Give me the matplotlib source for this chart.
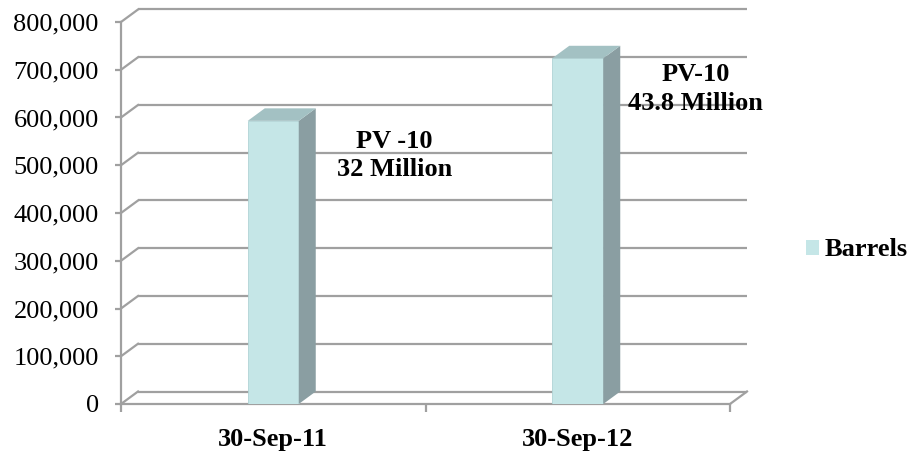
import matplotlib
matplotlib.use("Agg")
import matplotlib.pyplot as plt
from matplotlib.patches import Polygon, Patch
from matplotlib.ticker import FuncFormatter

# ---- data ----
categories = ["30-Sep-11", "30-Sep-12"]
barrels = [593000, 724000]
series_name = "Barrels"
annotations = ["PV -10\n32 Million", "PV-10\n43.8 Million"]
yticks = [0, 100000, 200000, 300000, 400000, 500000, 600000, 700000, 800000]

# ---- style ----
FONT = "Liberation Serif"
front_c = "#C5E6E7"
top_c = "#A3C1C3"
side_c = "#8A9EA2"
grid_c = "#A0A0A0"
FS = 19

W, H = 910, 451
fig = plt.figure(figsize=(W / 100, H / 100), dpi=100)
L, R, B, T = 121, 730, 404, 22
ax = fig.add_axes([L / W, (H - B) / H, (R - L) / W, (B - T) / H])
ax.set_xlim(-0.5, 1.5)
ax.set_ylim(0, 800000)

# depth offsets (pixels -> data units)
dpx, dpy = 17, 12.5
ddx = dpx * 2.0 / (R - L)
ddy = dpy * 800000 / (B - T)

# walls: back gridlines + side-wall diagonals
for v in yticks:
    ax.plot([-0.5 + ddx, 1.5 + ddx], [v + ddy, v + ddy], color=grid_c, lw=1.6,
            clip_on=False, zorder=1, solid_capstyle="butt")
    ax.plot([-0.5, -0.5 + ddx], [v, v + ddy], color=grid_c, lw=1.6,
            clip_on=False, zorder=1)
# floor front edge + right diagonal
ax.plot([-0.5, 1.5], [0, 0], color=grid_c, lw=1.6, clip_on=False, zorder=1)
ax.plot([1.5, 1.5 + ddx], [0, ddy], color=grid_c, lw=1.6, clip_on=False, zorder=1)

# bars (front face + side + top)
bw = 0.1675
xs = list(range(len(categories)))
ax.bar(xs, barrels, width=bw, color=front_c, edgecolor="#B0D4D6", linewidth=0.6, zorder=3)
for x, v in zip(xs, barrels):
    xr = x + bw / 2
    xl = x - bw / 2
    ax.add_patch(Polygon([(xr, 0), (xr + ddx, ddy), (xr + ddx, v + ddy), (xr, v)],
                         closed=True, facecolor=side_c, edgecolor="none", zorder=3, clip_on=False))
    ax.add_patch(Polygon([(xl, v), (xr, v), (xr + ddx, v + ddy), (xl + ddx, v + ddy)],
                         closed=True, facecolor=top_c, edgecolor="none", zorder=3, clip_on=False))

# axes styling
for s in ["top", "right", "bottom"]:
    ax.spines[s].set_visible(False)
ax.spines["left"].set_color(grid_c)
ax.spines["left"].set_linewidth(1.6)
ax.set_yticks(yticks)
ax.yaxis.set_major_formatter(FuncFormatter(lambda v, p: f"{int(v):,}"))
ax.tick_params(axis="y", colors=grid_c, length=4, width=1.6, pad=12)
for lab in ax.get_yticklabels():
    lab.set_color("black")
    lab.set_fontfamily(FONT)
    lab.set_fontsize(FS)

ax.set_xticks(xs)
ax.set_xticklabels(categories, fontfamily=FONT, fontsize=FS, fontweight="bold")
ax.tick_params(axis="x", length=0, pad=17)
ax.set_xticks([-0.5, 0.5, 1.5], minor=True)
ax.tick_params(axis="x", which="minor", length=6, width=1.6, colors=grid_c)

# annotations
ann_pos = [(0.397, 521000), (1.388, 660000)]
for (tx, ty), txt in zip(ann_pos, annotations):
    ax.text(tx, ty, txt, ha="center", va="center", fontfamily=FONT, fontsize=FS,
            fontweight="bold", linespacing=1.3, zorder=5)

# legend
fig.legend(handles=[Patch(facecolor=front_c, edgecolor="none")], labels=[series_name],
           loc="center left", bbox_to_anchor=(806 / W, 1 - 250 / H), frameon=False,
           handlelength=0.5, handleheight=0.5, handletextpad=0.2, borderpad=0,
           borderaxespad=0,
           prop={"family": FONT, "size": FS, "weight": "bold"})

fig.savefig("out.png", dpi=100, facecolor="white")
